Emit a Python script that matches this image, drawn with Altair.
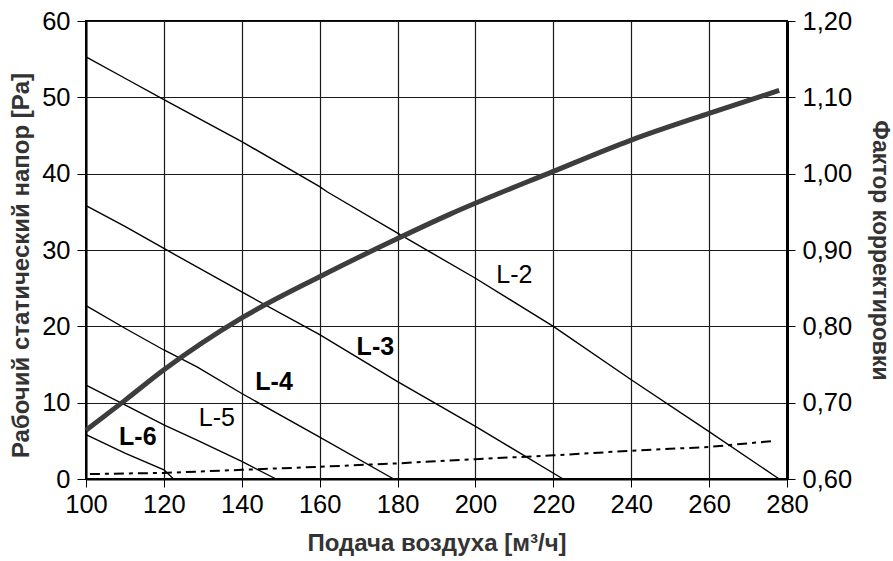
import altair as alt
import pandas as pd

# ---- data ----
x_ticks = [100, 120, 140, 160, 180, 200, 220, 240, 260, 280]
y_left_ticks = [0, 10, 20, 30, 40, 50, 60]
y_right_ticks = [0.6, 0.7, 0.8, 0.9, 1.0, 1.1, 1.2]

flow_L2 = [100, 110, 120, 140, 160, 162, 180, 200, 220, 240, 260, 278]
pres_L2 = [55.3, 52.5, 49.7, 44.2, 38.3, 37.6, 32.2, 26.3, 20.0, 13.0, 6.2, 0]
flow_L3 = [100, 110, 120, 140, 160, 180, 200, 222.5]
pres_L3 = [35.8, 33.1, 30.2, 24.5, 18.9, 12.75, 6.9, 0]
flow_L4 = [100, 110, 120, 128.5, 140, 160, 179]
pres_L4 = [22.7, 19.75, 16.9, 14.7, 11.2, 5.5, 0]
flow_L5 = [100, 110, 120, 128.5, 140, 148.8]
pres_L5 = [12.3, 9.7, 7.1, 5.1, 2.3, 0]
flow_L6 = [100, 110, 120, 122.5]
pres_L6 = [5.8, 3.4, 1.2, 0]

flow_dash = [101, 120, 140, 160, 180, 200, 220, 240, 260, 277]
pres_dash = [0.65, 0.8, 1.2, 1.6, 2.05, 2.6, 3.1, 3.7, 4.2, 5.0]

flow_factor = [100, 110, 120, 140, 160, 180, 193.5, 220, 240, 260, 278]
factor = [0.664, 0.703, 0.743, 0.811, 0.865, 0.915, 0.947, 1.003, 1.044, 1.079, 1.109]

lbl_names = ["L-2", "L-3", "L-4", "L-5", "L-6"]
lbl_x = [210, 174.3, 148.3, 133.6, 113.3]
lbl_y = [26.7, 17.3, 12.7, 8.0, 5.55]
lbl_bold = [False, True, True, False, True]

# ---- tables ----
rows = []
for name, fx, py in [("L-2", flow_L2, pres_L2), ("L-3", flow_L3, pres_L3),
                     ("L-4", flow_L4, pres_L4), ("L-5", flow_L5, pres_L5),
                     ("L-6", flow_L6, pres_L6)]:
    for i, (a, b) in enumerate(zip(fx, py)):
        rows.append({"series": name, "flow": a, "pres": b, "i": i})
lines_df = pd.DataFrame(rows)
dash_df = pd.DataFrame({"flow": flow_dash, "pres": pres_dash})
factor_df = pd.DataFrame({"flow": flow_factor, "factor": factor})
lbl_df = pd.DataFrame({"name": lbl_names, "flow": lbl_x, "pres": lbl_y, "bold": lbl_bold})

FONT = "Liberation Sans"
TITLE_COLOR = "#333333"
TICK_FS = 25.5

x_scale = alt.Scale(domain=[100, 280], nice=False, zero=False)
yl_scale = alt.Scale(domain=[0, 60], nice=False)
yr_scale = alt.Scale(domain=[0.6, 1.2], nice=False, zero=False)

x_axis = alt.Axis(values=x_ticks, title="Подача воздуха [м³/ч]", grid=True,
                  gridColor="#1a1a1a", gridWidth=1.2, tickColor="black", tickSize=8,
                  labelFontSize=TICK_FS, labelFont=FONT, labelColor="black", labelPadding=5,
                  labelFlush=False, labelOverlap=False, labelBound=False,
                  domainColor="black", domainWidth=2,
                  titleFont=FONT, titleFontSize=24, titleFontWeight="bold",
                  titleColor=TITLE_COLOR, titleY=64, titleBaseline="middle")

yl_axis = alt.Axis(values=y_left_ticks, title="Рабочий статический напор [Pa]", grid=True,
                   gridColor="#1a1a1a", gridWidth=1.2, tickColor="black", tickSize=9,
                   labelFontSize=TICK_FS, labelFont=FONT, labelColor="black", labelPadding=7,
                   labelFlush=False, labelOverlap=False, labelBound=False,
                   domainColor="black", domainWidth=2,
                   titleFont=FONT, titleFontSize=24, titleFontWeight="bold",
                   titleColor=TITLE_COLOR, titleX=-65, titleY=244, titleAngle=270,
                   titleBaseline="middle", titleAlign="center")

yr_axis = alt.Axis(values=y_right_ticks, orient="right", title="Фактор корректировки",
                   grid=False, tickColor="black", tickSize=8,
                   labelExpr="replace(format(datum.value, '.2f'), '.', ',')",
                   labelFontSize=TICK_FS, labelFont=FONT, labelColor="black", labelPadding=7,
                   labelFlush=False, labelOverlap=False, labelBound=False,
                   domainColor="black", domainWidth=3,
                   titleFont=FONT, titleFontSize=23, titleFontWeight="bold",
                   titleColor=TITLE_COLOR, titleX=92, titleY=229, titleAngle=90,
                   titleBaseline="middle", titleAlign="center")

X = alt.X("flow:Q", scale=x_scale, axis=x_axis)
YL = alt.Y("pres:Q", scale=yl_scale, axis=yl_axis)

lines = alt.Chart(lines_df).mark_line(color="black", strokeWidth=1.4).encode(
    x=X, y=YL, detail="series:N", order="i:Q",
)

dashed = alt.Chart(dash_df).mark_line(color="black", strokeWidth=2,
                                      strokeDash=[10, 5, 4, 5]).encode(x=X, y=YL)

labels_bold = alt.Chart(lbl_df).transform_filter("datum.bold").mark_text(
    font=FONT, fontSize=25, fontWeight="bold", color="black",
    align="center", baseline="middle").encode(x=X, y=YL, text="name:N")
labels_norm = alt.Chart(lbl_df).transform_filter("!datum.bold").mark_text(
    font=FONT, fontSize=25, fontWeight="normal", color="black",
    align="center", baseline="middle").encode(x=X, y=YL, text="name:N")

left = alt.layer(lines, dashed, labels_bold, labels_norm)

curve = alt.Chart(factor_df).mark_line(color="#3d3d3d", strokeWidth=5,
                                       interpolate="monotone").encode(
    x=X,
    y=alt.Y("factor:Q", scale=yr_scale, axis=yr_axis),
)

chart = alt.layer(left, curve).resolve_scale(y="independent").properties(
    width=701, height=458,
    autosize=alt.AutoSizeParams(type="none"),
    padding={"left": 86, "top": 21, "right": 106, "bottom": 82},
    background="white",
).configure_view(stroke="black", strokeWidth=2)

chart.save("out.html", embed_options={"renderer": "svg", "actions": False})
